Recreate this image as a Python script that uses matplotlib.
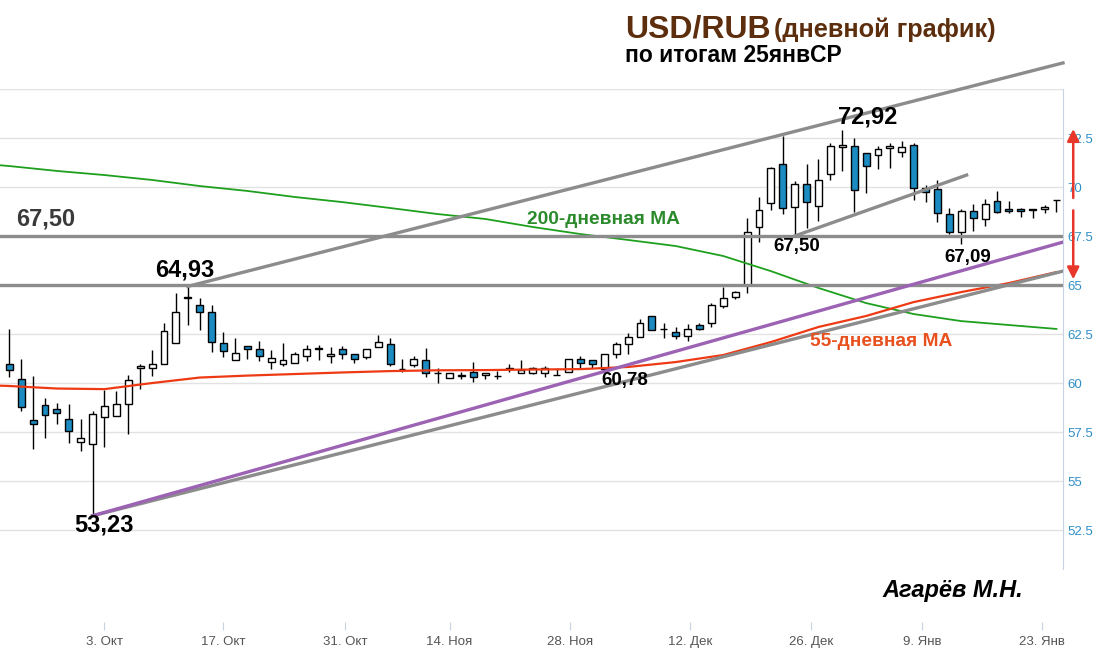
import matplotlib
matplotlib.use('Agg')
import matplotlib.pyplot as plt
from matplotlib.patches import Rectangle

plt.rcParams['font.family'] = ['Liberation Sans', 'DejaVu Sans']

# daily candles, 89 trading days (index 0 = first visible candle)
opens = [60.97, 60.19, 58.11, 58.86, 58.67, 58.16, 56.97, 56.87, 58.27, 58.33,
         58.91, 60.75, 60.75, 60.95, 62.03, 64.35, 63.98, 63.61, 62.03, 61.16,
         61.90, 61.72, 61.06, 60.95, 61.01, 61.36, 61.75, 61.36, 61.72, 61.46,
         61.33, 61.82, 61.99, 60.70, 60.92, 61.16, 60.49, 60.24, 60.37, 60.55,
         60.39, 60.36, 60.74, 60.49, 60.49, 60.49, 60.40, 60.58, 61.21, 61.16,
         60.71, 61.48, 61.97, 62.33, 63.42, 62.76, 62.58, 62.40, 62.94, 63.05,
         63.94, 64.37, 64.98, 67.94, 69.17, 71.16, 68.96, 70.14, 69.01, 70.65,
         72.03, 72.11, 71.72, 71.63, 71.98, 71.80, 72.13, 69.93, 69.88, 68.64,
         67.69, 68.78, 68.35, 69.29, 68.88, 68.88, 68.85, 68.86, 69.34]
highs = [62.74, 61.22, 60.36, 59.25, 58.96, 58.93, 58.16, 58.57, 59.64, 59.59,
         60.39, 60.97, 61.68, 63.05, 64.61, 64.93, 64.32, 63.98, 62.59, 62.28,
         61.90, 62.14, 61.68, 62.03, 61.57, 61.94, 61.94, 61.85, 61.89, 61.46,
         61.75, 62.45, 62.28, 61.21, 61.39, 61.80, 60.75, 60.53, 60.55, 61.06,
         60.49, 60.61, 60.95, 61.17, 60.80, 60.87, 60.75, 61.21, 61.38, 61.16,
         61.48, 62.08, 62.54, 63.25, 63.42, 63.05, 62.87, 62.99, 63.05, 64.10,
         64.91, 64.70, 68.40, 69.51, 71.00, 72.60, 70.31, 71.17, 71.41, 72.26,
         72.92, 72.48, 71.72, 72.09, 72.23, 72.36, 72.23, 70.10, 70.36, 68.91,
         68.88, 69.12, 69.39, 69.80, 69.29, 68.91, 68.87, 69.08, 69.34]
lows = [60.29, 58.59, 56.65, 57.21, 57.89, 56.95, 56.55, 53.23, 56.75, 58.33,
        57.41, 59.68, 60.36, 60.95, 62.03, 62.96, 62.70, 61.60, 61.34, 61.16,
        61.21, 61.14, 60.70, 60.88, 61.01, 61.12, 61.17, 61.04, 61.22, 61.04,
        61.24, 61.82, 60.88, 60.58, 60.83, 60.32, 59.98, 60.24, 60.19, 60.04,
        60.20, 60.20, 60.54, 60.49, 60.45, 60.32, 60.40, 60.58, 60.75, 60.75,
        60.71, 61.26, 61.46, 62.33, 62.70, 62.28, 62.23, 62.16, 62.70, 62.87,
        63.81, 64.30, 64.58, 67.21, 68.83, 68.61, 67.50, 67.89, 68.26, 70.36,
        70.83, 68.71, 69.68, 70.90, 70.99, 71.54, 69.35, 69.22, 68.23, 67.62,
        67.09, 67.76, 68.01, 68.66, 68.69, 68.49, 68.44, 68.66, 68.74]
closes = [60.65, 58.79, 57.89, 58.35, 58.45, 57.54, 57.18, 58.40, 58.81, 58.91,
          60.14, 60.85, 60.97, 62.64, 63.61, 64.40, 63.61, 62.08, 61.62, 61.52,
          61.72, 61.36, 61.26, 61.16, 61.46, 61.72, 61.77, 61.46, 61.46, 61.21,
          61.75, 62.08, 60.95, 60.72, 61.22, 60.49, 60.50, 60.53, 60.39, 60.32,
          60.49, 60.38, 60.76, 60.66, 60.75, 60.75, 60.42, 61.21, 61.00, 60.95,
          61.48, 61.97, 62.33, 63.05, 62.70, 62.78, 62.40, 62.74, 62.77, 63.98,
          64.32, 64.63, 67.69, 68.83, 70.95, 68.91, 70.14, 69.22, 70.36, 72.11,
          72.15, 69.85, 71.06, 71.92, 72.11, 72.06, 69.94, 69.73, 68.66, 67.69,
          68.78, 68.40, 69.12, 68.71, 68.76, 68.76, 68.86, 68.96, 69.34]

# moving averages read every 4th candle (-1 = day before the first visible candle)
ma_idx = [-1, 0, 4, 8, 12, 16, 20, 24, 28, 32, 36, 40, 44,
          48, 52, 56, 60, 64, 68, 72, 76, 80, 84, 88]
ma200 = [71.12, 71.07, 70.82, 70.61, 70.36, 70.05, 69.80, 69.49, 69.23, 68.93, 68.62, 68.37,
         67.96, 67.60, 67.30, 66.99, 66.48, 65.71, 64.85, 64.08, 63.52, 63.16, 62.96, 62.76]
ma55 = [59.87, 59.85, 59.72, 59.69, 60.00, 60.28, 60.38, 60.46, 60.54, 60.61, 60.65, 60.66,
        60.69, 60.71, 60.82, 61.07, 61.43, 62.09, 62.86, 63.42, 64.13, 64.64, 65.10, 65.66]

x_ticks = [8, 18, 28.2, 37, 47.1, 57.2, 67.4, 76.7, 86.8]
x_labels = ['3. Окт', '17. Окт', '31. Окт', '14. Ноя', '28. Ноя',
            '12. Дек', '26. Дек', '9. Янв', '23. Янв']
y_ticks = [52.5, 55, 57.5, 60, 62.5, 65, 67.5, 70, 72.5, 75]
y_labels = ['52.5', '55', '57.5', '60', '62.5', '65', '67.5', '70', '72.5', '']

levels = [67.5, 65.0]

fig = plt.figure(figsize=(11.05, 6.51), dpi=100)
ax = fig.add_axes([0, 29 / 651, 1063 / 1105, 533 / 651])
ax.set_xlim(-0.78, 88.55)
ax.set_ylim(47.81, 75.0)

for y in y_ticks:
    ax.axhline(y, color='#e2e2e2', lw=1, zorder=0)

for s in ['top', 'left', 'bottom']:
    ax.spines[s].set_visible(False)
ax.spines['right'].set_color('#c8d2e2')
ax.spines['right'].set_bounds(50.5, 75)

ax.yaxis.tick_right()
ax.set_yticks(y_ticks)
ax.set_yticklabels(y_labels)
ax.tick_params(axis='y', length=0, pad=3, labelsize=9.5, labelcolor='#2f8fc8')
ax.set_xticks(x_ticks)
ax.set_xticklabels(x_labels)
ax.tick_params(axis='x', length=6, color='#c8d2e2', pad=4, labelsize=9.5,
               labelcolor='#555555')

# candles
w = 0.58
for i in range(len(opens)):
    o, h, l, c = opens[i], highs[i], lows[i], closes[i]
    ax.vlines(i, l, h, color='black', lw=1, zorder=2)
    col = 'white' if c >= o else '#1b8bc2'
    ax.add_patch(Rectangle((i - w / 2, min(o, c)), w, max(abs(c - o), 0.02),
                           facecolor=col, edgecolor='black', lw=1, zorder=3))

ax.plot(ma_idx, ma200, color='#1ea01e', lw=1.3, zorder=4)
ax.plot(ma_idx, ma55, color='#ee3a14', lw=1.6, zorder=4)

for lv in levels:
    ax.axhline(lv, color='#8c8c8c', lw=2.4, zorder=5)

# trend channel
gray = '#8c8c8c'
ax.plot([15, 88.55], [64.93, 76.33], color=gray, lw=2.4, zorder=5, clip_on=False)
ax.plot([7, 88.55], [53.23, 65.71], color=gray, lw=2.4, zorder=5)
ax.plot([7, 88.55], [53.23, 67.19], color='#9c62b4', lw=2.4, zorder=5)
ax.plot([66, 80.45], [67.5, 70.61], color=gray, lw=2.4, zorder=5)

# red double arrow on the right
arrow = dict(arrowstyle='-|>', color='#e8372a', lw=1.8, mutation_scale=18)
ax.annotate('', xy=(89.41, 73.1), xytext=(89.41, 69.3), arrowprops=arrow,
            annotation_clip=False)
ax.annotate('', xy=(89.41, 65.15), xytext=(89.41, 68.95), arrowprops=arrow,
            annotation_clip=False)

big = dict(fontsize=17, fontweight='bold', zorder=6)
small = dict(fontsize=13.5, fontweight='bold', zorder=6)
ax.text(0.56, 68.37, '67,50', color='#3a3a3a', ha='left', va='center', **big)
ax.text(12.24, 65.77, '64,93', color='black', ha='left', va='center', **big)
ax.text(7.96, 52.76, '53,23', color='black', ha='center', va='center', **big)
ax.text(72.16, 73.57, '72,92', color='black', ha='center', va='center', **big)
ax.text(66.15, 66.97, '67,50', color='black', ha='center', va='center', **small)
ax.text(80.56, 66.40, '67,09', color='black', ha='center', va='center', **small)
ax.text(51.74, 60.12, '60,78', color='black', ha='center', va='center', **small)
ax.text(43.5, 68.32, '200-дневная МА', color='#2b8a2b', ha='left', va='center',
        fontsize=13.8, fontweight='bold', zorder=6)
ax.text(67.3, 62.14, '55-дневная МА', color='#e8501e', ha='left', va='center',
        fontsize=13.8, fontweight='bold', zorder=6)

fig.text(625 / 1105, 1 - 38 / 651, 'USD/RUB', color='#5c2e0e', fontsize=23,
         fontweight='bold', va='baseline')
fig.text(774 / 1105, 1 - 37 / 651, '(дневной график)', color='#5c2e0e',
         fontsize=18.3, fontweight='bold', va='baseline')
fig.text(625 / 1105, 1 - 62 / 651, 'по итогам 25янвСР', color='black',
         fontsize=16.5, fontweight='bold', va='baseline')
fig.text(882 / 1105, 1 - 597 / 651, 'Агарёв М.Н.', color='black', fontsize=17,
         fontweight='bold', fontstyle='italic', va='baseline')

fig.savefig('out.png', dpi=100)
